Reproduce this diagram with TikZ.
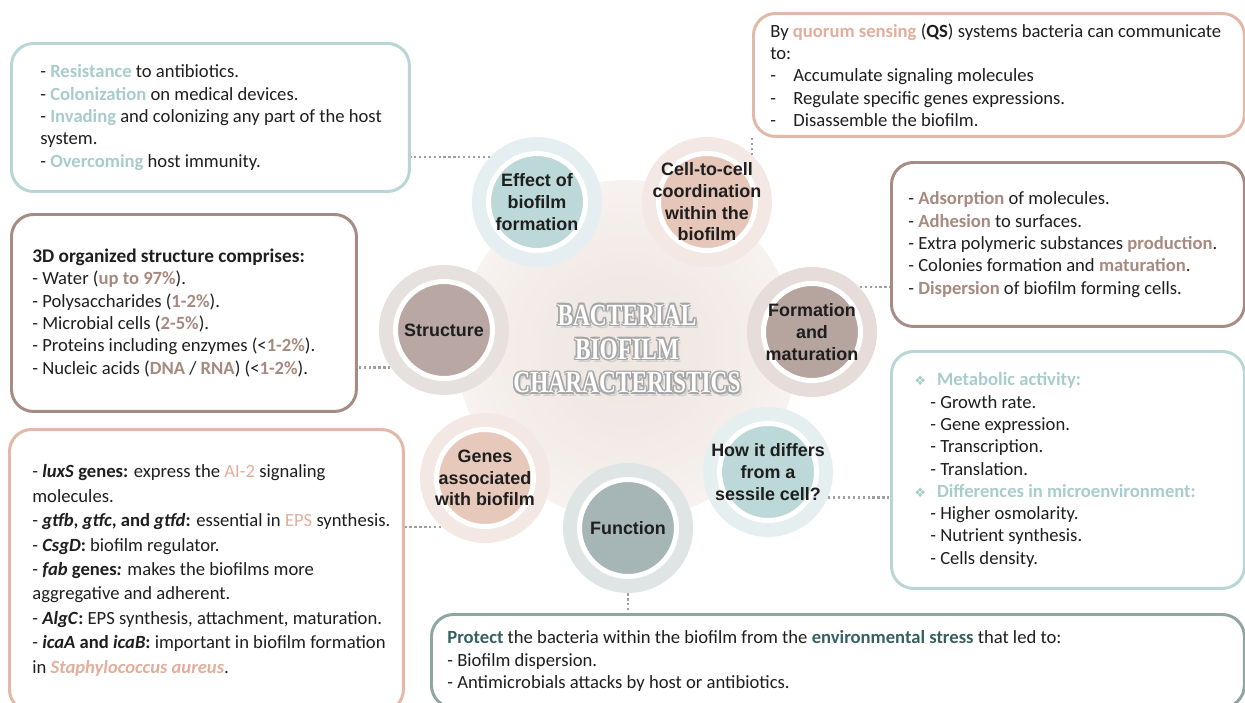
\documentclass[tikz,border=0pt]{standalone}
\usepackage{fontspec}
\setmainfont{Carlito}
\newfontfamily\capfont{Liberation Sans}
\newfontfamily\symfont{DejaVu Sans}
\newfontfamily\titlefont{Liberation Serif}
\usetikzlibrary{positioning}

\definecolor{ink}{HTML}{1E1E1E}
\definecolor{tealhl}{HTML}{A8CCCC}
\definecolor{tealline}{HTML}{B9D6D6}
\definecolor{salmonhl}{HTML}{E2AE9C}
\definecolor{salmonline}{HTML}{E2B8A8}
\definecolor{brownhl}{HTML}{A6897F}
\definecolor{brownline}{HTML}{A68C84}
\definecolor{slatehl}{HTML}{36605F}
\definecolor{slateline}{HTML}{8FA6A3}
\definecolor{glowc}{HTML}{EFE6E1}
% circle colours
\definecolor{effouter}{HTML}{E5EEF0}
\definecolor{effinner}{HTML}{BCD8D8}
\definecolor{cellouter}{HTML}{F4E8E4}
\definecolor{cellinner}{HTML}{E6C6B9}
\definecolor{strouter}{HTML}{E6E0DE}
\definecolor{strinner}{HTML}{B8A7A2}
\definecolor{formouter}{HTML}{E6DCD9}
\definecolor{forminner}{HTML}{B6A49E}
\definecolor{genouter}{HTML}{F4E8E4}
\definecolor{geninner}{HTML}{E7C9BC}
\definecolor{funouter}{HTML}{DFE5E5}
\definecolor{funinner}{HTML}{A6B6B6}
\definecolor{diffouter}{HTML}{E6EFF0}
\definecolor{diffinner}{HTML}{BCD8D8}

\pgfdeclareradialshading{glow}{\pgfpoint{0bp}{0bp}}{color(0bp)=(glowc); color(12bp)=(glowc!85!white); color(30bp)=(glowc!35!white); color(46bp)=(white); color(50bp)=(white)}

\newcommand\tealword[1]{{\bfseries\color{tealhl}#1}}
\newcommand\salmonword[1]{{\color{salmonhl}#1}}
\newcommand\brownword[1]{{\bfseries\color{brownhl}#1}}
\newcommand\slateword[1]{{\bfseries\color{slatehl}#1}}
\newcommand\titlewords{BACTERIAL\\BIOFILM\\CHARACTERISTICS}
\newcommand\starmark{{\symfont\fontsize{7.5}{9}\selectfont\color{tealhl}❖}\hspace{0.22cm}}

\tikzset{
  boxframe/.style={draw=#1, line width=1.7pt, rounded corners=0.44cm, anchor=north west, inner sep=0pt},
  boxtext/.style={align=left, inner sep=0pt, text=ink, font=\fontsize{10.6}{12.7}\selectfont},
  ring/.style={circle, fill=#1, minimum size=2.6cm, inner sep=0pt},
  disc/.style={circle, fill=#1, draw=white, line width=0.1cm, minimum size=1.94cm, inner sep=0pt},
  circtext/.style={font=\capfont\bfseries\fontsize{10.2}{12.3}\selectfont, align=center, text=ink, inner sep=0pt},
  titletext/.style={font=\titlefont\bfseries\fontsize{17.5}{19.3}\selectfont, align=center, xscale=0.76, inner sep=0pt},
  link/.style={draw=gray!75, line width=1.2pt, dash pattern=on 1.3pt off 1.5pt},
}

\begin{document}
\begin{tikzpicture}[x=0.02cm, y=-0.02cm]
\useasboundingbox (0,0) rectangle (1245,703);

% glow and title
\shade[shading=glow] (627,350) circle (3.4cm);
\node[titletext, text=gray!35] (shade0) at ([shift={(1.6pt,-1.8pt)}]627,349) {\titlewords};
\foreach \dx/\dy [count=\i] in {0.9/0, -0.9/0, 0/0.9, 0/-0.9, 0.65/0.65, -0.65/0.65, 0.65/-0.65, -0.65/-0.65}
  \node[titletext, text=gray!70] (shade\i) at ([shift={(\dx pt,\dy pt)}]627,349) {\titlewords};
\node[titletext, text=white] (title) at (627,349) {\titlewords};

% text boxes
\node[boxframe=tealline, minimum width=7.96cm, minimum height=2.96cm] (effbox) at (10,42) {};
\node[boxtext, right=0.6cm of effbox.west] (efftext) {%
- \tealword{Resistance} to antibiotics.\\
- \tealword{Colonization} on medical devices.\\
- \tealword{Invading} and colonizing any part of the host\\
system.\\
- \tealword{Overcoming} host immunity.};

\node[boxframe=salmonline, minimum width=9.82cm, minimum height=2.46cm] (qsbox) at (752,12) {};
\node[boxtext, right=0.36cm of qsbox.west] (qstext) {%
By {\bfseries\salmonword{quorum sensing}} (\textbf{QS}) systems bacteria can communicate\\
to:\\
\makebox[0.46cm][l]{-}Accumulate signaling molecules\\
\makebox[0.46cm][l]{-}Regulate specific genes expressions.\\
\makebox[0.46cm][l]{-}Disassemble the biofilm.};

\node[boxframe=brownline, minimum width=7.06cm, minimum height=3.28cm] (formbox) at (890,161) {};
\node[boxtext, right=0.36cm of formbox.west] (formtext) {%
- \brownword{Adsorption} of molecules.\\
- \brownword{Adhesion} to surfaces.\\
- Extra polymeric substances \brownword{production}.\\
- Colonies formation and \brownword{maturation}.\\
- \brownword{Dispersion} of biofilm forming cells.};

\node[boxframe=brownline, minimum width=6.9cm, minimum height=3.94cm] (strbox) at (10,213) {};
\node[boxtext, right=0.44cm of strbox.west] (strtext) {%
{\bfseries\fontsize{11}{12.7}\selectfont 3D organized structure comprises:}\\
- Water (\brownword{up to 97\%}).\\
- Polysaccharides (\brownword{1-2\%}).\\
- Microbial cells (\brownword{2-5\%}).\\
- Proteins including enzymes (<\brownword{1-2\%}).\\
- Nucleic acids (\brownword{DNA} / \brownword{RNA}) (<\brownword{1-2\%}).};

\node[boxframe=tealline, minimum width=7.06cm, minimum height=4.74cm] (diffbox) at (890,350) {};
\node[boxtext, right=0.48cm of diffbox.west] (difftext) {%
\starmark\tealword{Metabolic activity:}\\
\hspace*{0.32cm}- Growth rate.\\
\hspace*{0.32cm}- Gene expression.\\
\hspace*{0.32cm}- Transcription.\\
\hspace*{0.32cm}- Translation.\\
\starmark\tealword{Differences in microenvironment:}\\
\hspace*{0.32cm}- Higher osmolarity.\\
\hspace*{0.32cm}- Nutrient synthesis.\\
\hspace*{0.32cm}- Cells density.};

\node[boxframe=salmonline, minimum width=7.88cm, minimum height=5.64cm] (genbox) at (8,428) {};
\node[boxtext, font=\fontsize{10.6}{13.9}\selectfont, right=0.48cm of genbox.west] (gentext) {%
- \textbf{\textit{luxS} genes:} express the \salmonword{AI-2} signaling\\
molecules.\\
- \textbf{\textit{gtfb}, \textit{gtfc}, and \textit{gtfd}:} essential in \salmonword{EPS} synthesis.\\
- \textbf{\textit{CsgD}:} biofilm regulator.\\
- \textbf{\textit{fab} genes\textit{:}} makes the biofilms more\\
aggregative and adherent.\\
- \textbf{\textit{AlgC}:} EPS synthesis, attachment, maturation.\\
- \textbf{\textit{icaA} and \textit{icaB}:} important in biofilm formation\\
in {\bfseries\itshape\color{salmonhl}Staphylococcus aureus}.};

\node[boxframe=slateline, minimum width=16.26cm, minimum height=1.86cm] (funbox) at (430,613) {};
\node[boxtext, right=0.34cm of funbox.west] (funtext) {%
\slateword{Protect} the bacteria within the biofilm from the \slateword{environmental stress} that led to:\\
- Biofilm dispersion.\\
- Antimicrobials attacks by host or antibiotics.};

% circles
\node[ring=effouter] (effring) at (537,202) {};
\node[disc=effinner, label={[circtext]center:Effect of\\biofilm\\formation}] (effcore) at (effring) {};
\node[ring=cellouter] (cellring) at (707,202) {};
\node[disc=cellinner, label={[circtext]center:Cell-to-cell\\coordination\\within the\\biofilm}] (cellcore) at (cellring) {};
\node[ring=strouter] (strring) at (444,330) {};
\node[disc=strinner, label={[circtext]center:Structure}] (strcore) at (strring) {};
\node[ring=formouter] (formring) at (812,332) {};
\node[disc=forminner, label={[circtext]center:Formation\\and\\maturation}] (formcore) at (formring) {};
\node[ring=genouter] (genring) at (485,478) {};
\node[disc=geninner, label={[circtext]center:Genes\\associated\\with biofilm}] (gencore) at (genring) {};
\node[ring=funouter] (funring) at (628,528) {};
\node[disc=funinner, label={[circtext]center:Function}] (funcore) at (funring) {};
\node[ring=diffouter] (diffring) at (768,472) {};
\node[disc=diffinner, label={[circtext]center:How it differs\\from a\\sessile cell?}] (diffcore) at (diffring) {};

% dotted connectors
\draw[link] (effring.136) -- (effring.136 -| effbox.east);
\draw[link] (cellring.46) -- (cellring.46 |- qsbox.south);
\draw[link] (formring.43) -- (formring.43 -| formbox.west);
\draw[link] (strring.215) -- (strring.215 -| strbox.east);
\draw[link] (genring.228) -- (genring.228 -| genbox.east);
\draw[link] (diffring.-23) -- (diffring.-23 -| diffbox.west);
\draw[link] (funring.south) -- (funring.south |- funbox.north);
\end{tikzpicture}
\end{document}
